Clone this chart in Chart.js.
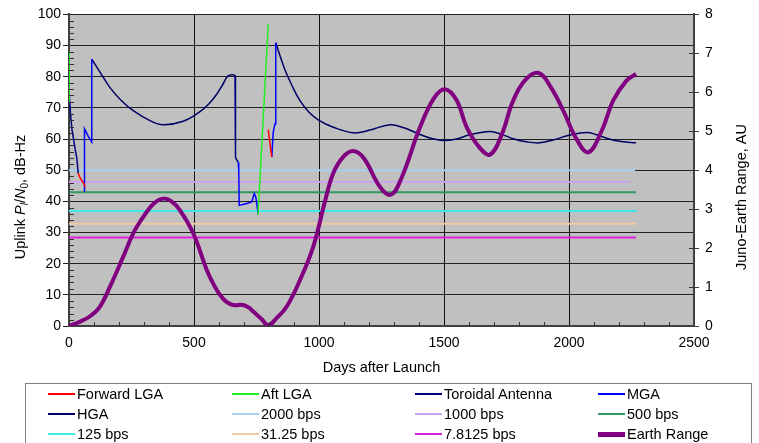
<!DOCTYPE html>
<html><head><meta charset="utf-8">
<script src="https://cdn.jsdelivr.net/npm/chart.js@4.4.1/dist/chart.umd.min.js"></script>
<style>
html,body{margin:0;padding:0;background:#fff;}
#wrap{position:relative;width:759px;height:443px;overflow:hidden;font-family:"Liberation Sans",Arial,sans-serif;}
#c{position:absolute;left:0;top:0;}
#legend{position:absolute;left:25px;top:383px;width:727px;height:80px;border:1px solid #808080;box-sizing:border-box;}
.li{position:absolute;height:20px;font-size:14.5px;line-height:20px;white-space:nowrap;color:#000;}
.li i{position:absolute;left:0;width:27px;}
.li span{position:absolute;left:29px;top:0;}
</style></head>
<body>
<div id="wrap"><canvas id="c" width="759" height="443"></canvas><div id="legend"></div></div>
<script>
// --- data: [day, value], null = gap ---
const forwardLGA=[[37,49],[44,47.6],[52,46.6],[60,45.6],[64,44.6],[400,null],[797,63],[804,58.5],[811,54.2]];
const aftLGA=[[0,88],[1,72],[400,null],[756,35.6],[797,96.8]];
const toroidal=[[0,76],[6,68],[12,63],[17,60.5],[24,57],[31,54],[37,49],[300,null],[664,80.5],[666,54],[677,52.5]];
const mga=[[62,43],[62,63.3],[76,61],[91,59],[91,85.6],[400,null],[677,52.5],[679,50],[681,38.7],[711,39.3],[731,39.8],[741,42.5],[747,41.4],[751,39.3],[757,35.8],[780,null],[811,54.2],[817,62.2],[824,64.9],[827,90.9]];
const hga=[[91,85.6],[124,81.5],[164,76.5],[210,72.3],[257,69.1],[324,65.9],[376,64.6],[457,65.7],[524,68.8],[560,71.3],[591,74.4],[615,77.5],[635,80.2],[650,80.6],[664,80.5],[700,null],
  [827,90.9],[845,86.5],[865,82],[890,77.5],[924,72.3],[960,68.6],[1000,66],[1057,63.8],[1137,62],[1200,62.8],[1284,64.6],[1340,63.6],[1400,61.6],[1450,60.2],[1497,59.5],[1550,60],[1600,61.3],[1684,62.4],
  [1730,61.5],[1780,60],[1830,59.1],[1884,58.8],[1940,59.8],[2000,61.2],[2071,62.1],[2110,61.4],[2160,60],[2210,59.2],[2268,58.8]];
const bps2000=[[0,50],[2264,50]];
const bps1000=[[0,46.2],[2244,46.2]];
const bps500=[[0,42.9],[2268,42.9]];
const bps125=[[0,36.9],[2272,36.9]];
const bps31=[[0,32.8],[2268,32.8]];
const bps7=[[0,28.4],[2268,28.4]];
const earthRange=[[0,0],[40,0.1],[84,0.25],[124,0.5],[164,1.01],[217,1.78],[257,2.38],[297,2.8],[340,3.15],[377,3.27],[410,3.2],[444,2.97],[497,2.38],[551,1.44],[580,1.05],[604,0.8],[630,0.62],[657,0.54],[697,0.54],[720,0.47],[737,0.37],[770,0.18],[797,0.02],
  [830,0.2],[871,0.5],[924,1.18],[977,2.04],[1024,3.2],[1057,3.92],[1097,4.34],[1137,4.49],[1180,4.3],[1244,3.57],[1288,3.37],[1330,3.8],[1404,5.1],[1460,5.85],[1504,6.08],[1550,5.8],[1591,5.1],[1640,4.6],[1684,4.4],
  [1730,4.9],[1777,5.79],[1830,6.35],[1881,6.49],[1930,6.1],[1977,5.53],[2030,4.8],[2077,4.46],[2130,5.0],[2177,5.79],[2230,6.3],[2268,6.47]];

const xTicks=[0,500,1000,1500,2000,2500];
const xTitle='Days after Launch';
const yTitle=[['Uplink ',''],['P','italic'],['l','italic',1],['/',''],['N','italic'],['0','',1],[', dB-Hz','']];
const y2Title='Juno-Earth Range, AU';

const FONT='"Liberation Sans", Arial, sans-serif';
Chart.defaults.font.family=FONT;
Chart.defaults.font.size=14;
Chart.defaults.color='#000';

const pts=a=>a.map(p=>({x:p[0],y:p[1]}));
const ln=(label,data,color,w,order,extra)=>Object.assign({label,data:pts(data),borderColor:color,backgroundColor:color,borderWidth:w,pointRadius:0,fill:false,tension:0,order,yAxisID:'y'},extra||{});

// plot background, minor ticks, axis titles
const deco={
  id:'deco',
  beforeDraw(chart){
    const {ctx,chartArea:a}=chart;
    ctx.save();ctx.fillStyle='#c0c0c0';ctx.fillRect(a.left,a.top,a.right-a.left,a.bottom-a.top);ctx.restore();
  },
  afterDraw(chart){
    const {ctx,chartArea:a,scales}=chart;
    ctx.save();
    ctx.strokeStyle='#333';ctx.lineWidth=1;ctx.beginPath();
    for(let d=100;d<2500;d+=100){if(d%500===0)continue;const x=Math.round(scales.x.getPixelForValue(d))+0.5;ctx.moveTo(x,a.bottom);ctx.lineTo(x,a.bottom-4);}
    for(let v=2;v<100;v+=2){if(v%10===0)continue;const y=Math.round(scales.y.getPixelForValue(v))+0.5;ctx.moveTo(a.left,y);ctx.lineTo(a.left+5,y);}
    for(let v=1;v<8;v++){const y=Math.round(scales.y2.getPixelForValue(v))+0.5;ctx.moveTo(a.right-5,y);ctx.lineTo(a.right,y);}
    ctx.stroke();
    ctx.fillStyle='#000';ctx.textAlign='center';ctx.textBaseline='middle';
    ctx.font='14.5px '+FONT;
    ctx.fillText(xTitle,(a.left+a.right)/2,368);
    // right title
    ctx.save();ctx.translate(742,197);ctx.rotate(-Math.PI/2);ctx.fillText(y2Title,0,0);ctx.restore();
    // left title with italic letters and subscripts
    const parts=yTitle.map(p=>{const f=(p[1]?p[1]+' ':'')+(p[2]?'10px ':'14.5px ')+FONT;ctx.font=f;return {t:p[0],f,w:ctx.measureText(p[0]).width,sub:p[2]};});
    const total=parts.reduce((s,p)=>s+p.w,0);
    ctx.save();ctx.translate(21,197);ctx.rotate(-Math.PI/2);ctx.textAlign='left';
    let x=-total/2;
    parts.forEach(p=>{ctx.font=p.f;ctx.fillText(p.t,x,p.sub?4:0);x+=p.w;});
    ctx.restore();
    ctx.restore();
  }
};

const chart=new Chart(document.getElementById('c'),{
  type:'line',
  data:{datasets:[
    ln('Forward LGA',forwardLGA,'#ff0000',1.5,1),
    ln('Aft LGA',aftLGA,'#22ee22',1.5,1),
    ln('Toroidal Antenna',toroidal,'#000080',1.5,1),
    ln('MGA',mga,'#0000ff',1.5,1),
    ln('HGA',hga,'#000066',1.5,1,{tension:0.4}),
    ln('2000 bps',bps2000,'#a6cff2',2,2),
    ln('1000 bps',bps1000,'#cfa3ee',2,2),
    ln('500 bps',bps500,'#2f9a62',2,2),
    ln('125 bps',bps125,'#3ee8e8',2,2),
    ln('31.25 bps',bps31,'#f2c9a2',2,2),
    ln('7.8125 bps',bps7,'#dd22dd',2,2),
    ln('Earth Range',earthRange,'#800080',4,0,{yAxisID:'y2',tension:0.4})
  ]},
  options:{
    responsive:false,animation:false,devicePixelRatio:1,
    layout:{padding:{top:13,left:0,right:0,bottom:0}},
    plugins:{legend:{display:false},tooltip:{enabled:false}},
    scales:{
      x:{type:'linear',min:0,max:2500,
        afterBuildTicks:s=>{s.ticks=xTicks.map(v=>({value:v}));},
        ticks:{padding:9,font:{size:14},callback:v=>String(v)},
        grid:{color:'#111',drawTicks:false},
        border:{color:'#404040',width:2},
        afterFit:s=>{s.height=117;}},
      y:{position:'left',min:0,max:100,
        ticks:{stepSize:10,padding:2,font:{size:14},callback:v=>String(v)},
        grid:{color:'#222',tickLength:6},
        border:{color:'#404040',width:2},
        afterFit:s=>{s.width=69;}},
      y2:{position:'right',min:0,max:8,
        ticks:{stepSize:1,padding:6,font:{size:14},callback:v=>String(v)},
        grid:{drawOnChartArea:false,tickLength:5,color:'#404040'},
        border:{color:'#404040',width:2},
        afterFit:s=>{s.width=65;}}
    }
  },
  plugins:[deco]
});

// legend: 4 columns x 3 rows, built from the datasets
const colX=[22,206,389,572],rowY=[0,20,40];
const lg=document.getElementById('legend');
chart.data.datasets.forEach((ds,i)=>{
  const el=document.createElement('div');el.className='li';
  el.style.left=colX[i%4]+'px';el.style.top=rowY[Math.floor(i/4)]+'px';
  const h=ds.borderWidth>3?5:2;
  el.innerHTML=`<i style="top:${10-h/2}px;height:${h}px;background:${ds.borderColor}"></i><span>${ds.label}</span>`;
  lg.appendChild(el);
});
</script>
</body></html>
